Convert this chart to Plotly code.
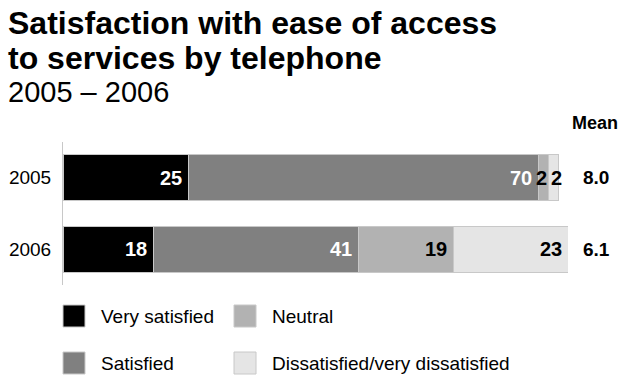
import plotly.graph_objects as go

# Survey data: satisfaction with ease of access to services by telephone
years = ["2005", "2006"]
series_names = ["Very satisfied", "Satisfied", "Neutral", "Dissatisfied/very dissatisfied"]
very_satisfied = [25, 18]
satisfied = [70, 41]
neutral = [2, 19]
dissatisfied = [2, 23]
mean_scores = ["8.0", "6.1"]

series_values = [very_satisfied, satisfied, neutral, dissatisfied]
colors = ["#000000", "#808080", "#b2b2b2", "#e5e5e5"]
label_colors = ["#ffffff", "#ffffff", "#000000", "#000000"]

W, H = 621, 377
# plot area in pixels
PL, PR, PT, PB = 63, 568, 142, 285

SANS = "Liberation Sans, Arial, Helvetica, sans-serif"


def px_x(px):
    return (px - PL) / (PR - PL)


def px_y(py):
    return (PB - py) / (PB - PT)


fig = go.Figure()
for name, vals, col in zip(series_names, series_values, colors):
    fig.add_trace(go.Bar(
        y=years, x=vals, name=name, orientation="h",
        marker=dict(color=col, line=dict(color="#c8c8c8", width=1)),
        width=0.64, showlegend=False, hoverinfo="skip",
    ))

annotations = []

# value labels on each segment (category axis positions given by index)
for i, yr in enumerate(years):
    cum = 0
    small_seen = 0
    for vals, lc in zip(series_values, label_colors):
        v = vals[i]
        start, end = cum, cum + v
        cum = end
        if v < 5:
            # narrow segments: centre the label, nudging neighbours apart
            annotations.append(dict(
                x=(start + end) / 2, y=i, xref="x", yref="y", text=str(v),
                showarrow=False, xanchor="center", yanchor="middle",
                xshift=-2 if small_seen == 0 else 3,
                font=dict(family=SANS, size=20, color="#000000", weight="bold"),
            ))
            small_seen += 1
        else:
            annotations.append(dict(
                x=end, y=i, xref="x", yref="y", text=str(v),
                showarrow=False, xanchor="right", yanchor="middle", xshift=-4,
                font=dict(family=SANS, size=20, color=lc, weight="bold"),
            ))
    # mean score to the right of the bar
    annotations.append(dict(
        x=px_x(596), y=i, xref="paper", yref="y", text=mean_scores[i],
        showarrow=False, xanchor="center", yanchor="middle",
        font=dict(family=SANS, size=19, color="#000000", weight="bold"),
    ))

annotations.append(dict(
    x=px_x(595), y=px_y(123), xref="paper", yref="paper", text="Mean",
    showarrow=False, xanchor="center", yanchor="middle",
    font=dict(family=SANS, size=18, color="#000000", weight="bold"),
))

# title block
annotations += [
    dict(x=px_x(6), y=px_y(22.5), xref="paper", yref="paper",
         text="Satisfaction with ease of access", showarrow=False,
         xanchor="left", yanchor="middle",
         font=dict(family=SANS, size=32, color="#000000", weight="bold")),
    dict(x=px_x(6), y=px_y(57.5), xref="paper", yref="paper",
         text="to services by telephone", showarrow=False,
         xanchor="left", yanchor="middle",
         font=dict(family=SANS, size=32, color="#000000", weight="bold")),
    dict(x=px_x(6), y=px_y(92), xref="paper", yref="paper",
         text="2005 – 2006", showarrow=False,
         xanchor="left", yanchor="middle",
         font=dict(family=SANS, size=29, color="#000000")),
]

# legend: two columns, two rows
shapes = []
legend_slots = {0: (63, 316), 2: (234, 316), 1: (63, 363), 3: (234, 363)}
for idx, (sx, sy) in legend_slots.items():
    shapes.append(dict(
        type="rect", xref="paper", yref="paper",
        x0=px_x(sx), x1=px_x(sx + 22), y0=px_y(sy - 11), y1=px_y(sy + 11),
        fillcolor=colors[idx], line=dict(color="#c8c8c8", width=1),
    ))
    annotations.append(dict(
        x=px_x(sx + 36), y=px_y(sy), xref="paper", yref="paper",
        text=series_names[idx], showarrow=False, xanchor="left", yanchor="middle",
        font=dict(family=SANS, size=19, color="#000000"),
    ))

fig.update_layout(
    width=W, height=H,
    margin=dict(l=PL, r=W - PR, t=PT, b=H - PB, pad=0),
    barmode="stack",
    paper_bgcolor="#ffffff", plot_bgcolor="#ffffff",
    xaxis=dict(range=[0, 101], visible=False, fixedrange=True, automargin=False),
    yaxis=dict(
        type="category", categoryorder="array", categoryarray=years,
        range=[1.5, -0.5], showline=True, linecolor="#c8c8c8", linewidth=1,
        ticks="", showgrid=False, zeroline=False, ticklabelstandoff=7,
        automargin=False,
        tickfont=dict(family=SANS, size=19, color="#000000"), fixedrange=True,
    ),
    annotations=annotations,
    shapes=shapes,
)

fig.write_html("out.html")
